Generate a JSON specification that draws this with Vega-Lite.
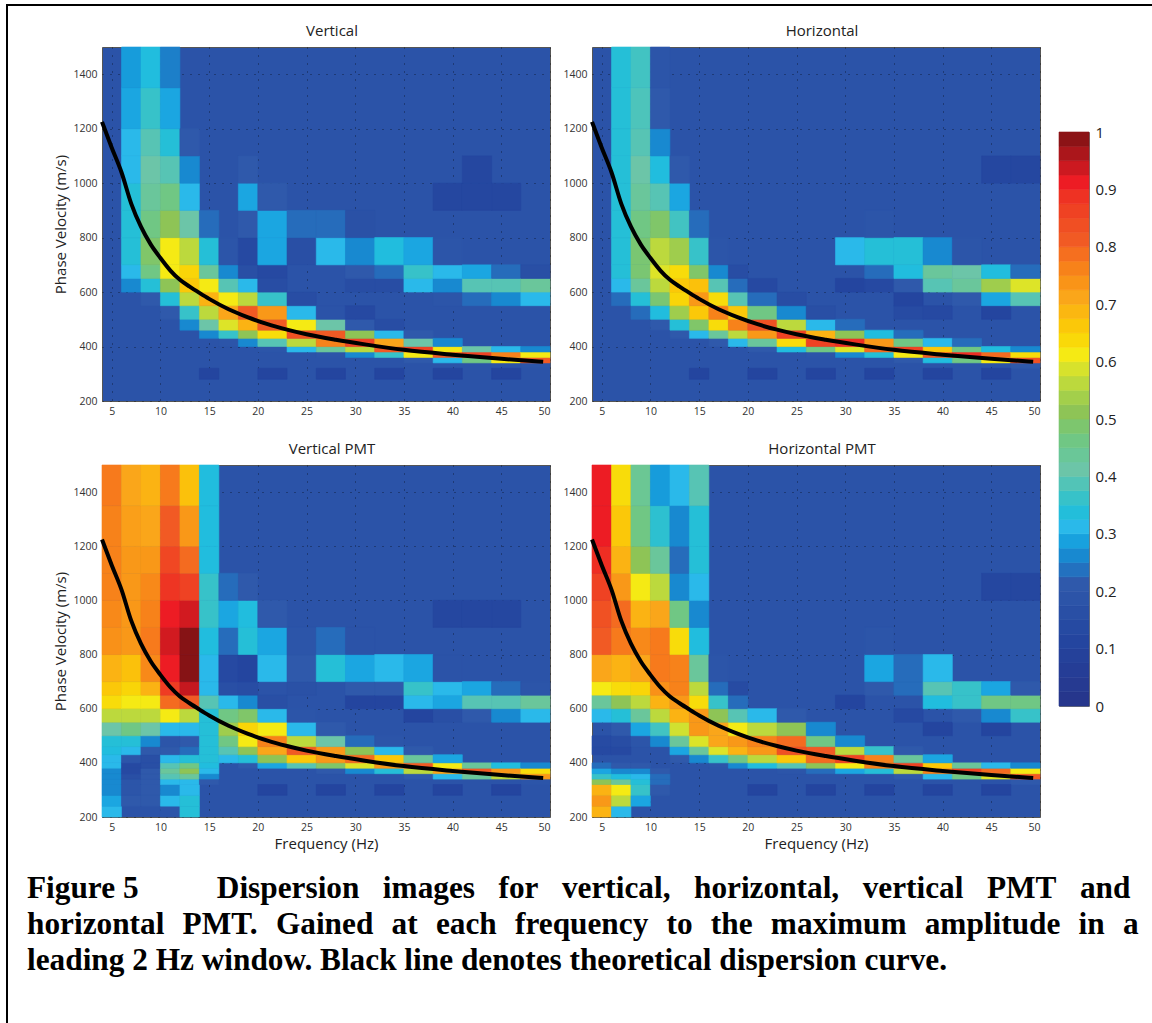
{"$schema":"https://vega.github.io/schema/vega-lite/v6.json","padding":{"left":6,"top":4,"right":0,"bottom":0},"background":"white","autosize":{"type":"pad"},
"datasets":{"fbin":[{"f":4,"f2":6},{"f":6,"f2":8},{"f":8,"f2":10},{"f":10,"f2":12},{"f":12,"f2":14},{"f":14,"f2":16},{"f":16,"f2":18},{"f":18,"f2":20},{"f":20,"f2":23},{"f":23,"f2":26},{"f":26,"f2":29},{"f":29,"f2":32},{"f":32,"f2":35},{"f":35,"f2":38},{"f":38,"f2":41},{"f":41,"f2":44},{"f":44,"f2":47},{"f":47,"f2":50}],
"vbin":[{"v":200,"v2":240},{"v":240,"v2":280},{"v":280,"v2":320},{"v":320,"v2":340},{"v":340,"v2":360},{"v":360,"v2":380},{"v":380,"v2":400},{"v":400,"v2":430},{"v":430,"v2":460},{"v":460,"v2":500},{"v":500,"v2":550},{"v":550,"v2":600},{"v":600,"v2":650},{"v":650,"v2":700},{"v":700,"v2":800},{"v":800,"v2":900},{"v":900,"v2":1000},{"v":1000,"v2":1100},{"v":1100,"v2":1200},{"v":1200,"v2":1350},{"v":1350,"v2":1500}],
"curve":[{"f":4,"c":1225},{"f":5,"c":1130},{"f":6,"c":1040},{"f":7,"c":925},{"f":8,"c":840},{"f":9,"c":775},{"f":10,"c":725},{"f":11,"c":680},{"f":12,"c":645},{"f":13,"c":620},{"f":14,"c":597},{"f":15,"c":575},{"f":17,"c":537},{"f":19,"c":507},{"f":21,"c":482},{"f":23,"c":462},{"f":25,"c":445},{"f":28,"c":425},{"f":31,"c":408},{"f":35,"c":388},{"f":40,"c":370},{"f":45,"c":355},{"f":49.3,"c":344}],"none":[],
"bar":[{"b":0,"t":0.025},{"b":0.025,"t":0.05},{"b":0.05,"t":0.075},{"b":0.075,"t":0.1},{"b":0.1,"t":0.125},{"b":0.125,"t":0.15},{"b":0.15,"t":0.175},{"b":0.175,"t":0.2},{"b":0.2,"t":0.225},{"b":0.225,"t":0.25},{"b":0.25,"t":0.275},{"b":0.275,"t":0.3},{"b":0.3,"t":0.325},{"b":0.325,"t":0.35},{"b":0.35,"t":0.375},{"b":0.375,"t":0.4},{"b":0.4,"t":0.425},{"b":0.425,"t":0.45},{"b":0.45,"t":0.475},{"b":0.475,"t":0.5},{"b":0.5,"t":0.525},{"b":0.525,"t":0.55},{"b":0.55,"t":0.575},{"b":0.575,"t":0.6},{"b":0.6,"t":0.625},{"b":0.625,"t":0.65},{"b":0.65,"t":0.675},{"b":0.675,"t":0.7},{"b":0.7,"t":0.725},{"b":0.725,"t":0.75},{"b":0.75,"t":0.775},{"b":0.775,"t":0.8},{"b":0.8,"t":0.825},{"b":0.825,"t":0.85},{"b":0.85,"t":0.875},{"b":0.875,"t":0.9},{"b":0.9,"t":0.925},{"b":0.925,"t":0.95},{"b":0.95,"t":0.975},{"b":0.975,"t":1}]},
"data":{"format":{"type":"csv","parse":{"f":"number","v":"number","a":"number"}},"values":"p,f,v,a\nV,6,600,.25\nV,6,650,.3\nV,6,700,.33\nV,6,800,.33\nV,6,900,.33\nV,6,1000,.3\nV,6,1100,.3\nV,6,1200,.28\nV,6,1350,.27\nV,8,550,.2\nV,8,600,.33\nV,8,650,.45\nV,8,700,.48\nV,8,800,.45\nV,8,900,.42\nV,8,1000,.4\nV,8,1100,.38\nV,8,1200,.35\nV,8,1350,.32\nV,10,500,.2\nV,10,550,.33\nV,10,600,.5\nV,10,650,.6\nV,10,700,.6\nV,10,800,.5\nV,10,900,.45\nV,10,1000,.38\nV,10,1100,.33\nV,10,1200,.28\nV,10,1350,.24\nV,12,460,.25\nV,12,500,.35\nV,12,550,.55\nV,12,600,.65\nV,12,650,.63\nV,12,700,.55\nV,12,800,.4\nV,12,900,.3\nV,12,1000,.25\nV,12,1100,.2\nV,14,430,.25\nV,14,460,.4\nV,14,500,.55\nV,14,550,.68\nV,14,600,.6\nV,14,650,.42\nV,14,700,.33\nV,14,800,.22\nV,16,400,.18\nV,16,430,.35\nV,16,460,.58\nV,16,500,.7\nV,16,550,.6\nV,16,600,.38\nV,16,650,.25\nV,16,700,.18\nV,18,400,.25\nV,18,430,.5\nV,18,460,.68\nV,18,500,.8\nV,18,550,.55\nV,18,600,.3\nV,18,650,.15\nV,18,700,.12\nV,18,800,.2\nV,18,900,.28\nV,18,1000,.2\nV,20,380,.18\nV,20,400,.38\nV,20,430,.62\nV,20,460,.8\nV,20,500,.72\nV,20,550,.35\nV,20,600,.14\nV,20,650,.12\nV,20,700,.28\nV,20,800,.28\nV,20,900,.2\nV,23,380,.3\nV,23,400,.55\nV,23,430,.82\nV,23,460,.6\nV,23,500,.3\nV,23,550,.14\nV,23,700,.15\nV,23,800,.22\nV,26,360,.18\nV,26,380,.42\nV,26,400,.75\nV,26,430,.8\nV,26,460,.4\nV,26,500,.17\nV,26,700,.3\nV,26,800,.22\nV,29,360,.25\nV,29,380,.55\nV,29,400,.85\nV,29,430,.5\nV,29,460,.2\nV,29,500,.12\nV,29,600,.14\nV,29,650,.2\nV,29,700,.25\nV,29,800,.16\nV,32,360,.35\nV,32,380,.8\nV,32,400,.7\nV,32,430,.3\nV,32,460,.14\nV,32,600,.14\nV,32,650,.22\nV,32,700,.32\nV,35,340,.2\nV,35,360,.6\nV,35,380,.85\nV,35,400,.4\nV,35,430,.2\nV,35,600,.3\nV,35,650,.35\nV,35,700,.28\nV,38,340,.3\nV,38,360,.8\nV,38,380,.6\nV,38,400,.25\nV,38,550,.18\nV,38,600,.25\nV,38,650,.3\nV,38,700,.18\nV,41,340,.45\nV,41,360,.85\nV,41,380,.4\nV,41,550,.22\nV,41,600,.38\nV,41,650,.28\nV,44,340,.6\nV,44,360,.75\nV,44,380,.3\nV,44,550,.25\nV,44,600,.38\nV,44,650,.22\nV,47,320,.18\nV,47,340,.8\nV,47,360,.6\nV,47,380,.25\nV,47,550,.3\nV,47,600,.42\nV,47,650,.15\nH,6,550,.22\nH,6,600,.3\nH,6,650,.33\nH,6,700,.33\nH,6,800,.33\nH,6,900,.33\nH,6,1000,.33\nH,6,1100,.33\nH,6,1200,.33\nH,6,1350,.33\nH,8,500,.22\nH,8,550,.33\nH,8,600,.42\nH,8,650,.47\nH,8,700,.47\nH,8,800,.45\nH,8,900,.42\nH,8,1000,.4\nH,8,1100,.38\nH,8,1200,.37\nH,8,1350,.36\nH,10,460,.2\nH,10,500,.32\nH,10,550,.47\nH,10,600,.55\nH,10,650,.58\nH,10,700,.55\nH,10,800,.48\nH,10,900,.38\nH,10,1000,.32\nH,10,1100,.25\nH,10,1200,.2\nH,10,1350,.18\nH,12,430,.2\nH,12,460,.33\nH,12,500,.52\nH,12,550,.63\nH,12,600,.65\nH,12,650,.62\nH,12,700,.52\nH,12,800,.36\nH,12,900,.28\nH,12,1000,.2\nH,14,430,.3\nH,14,460,.48\nH,14,500,.65\nH,14,550,.72\nH,14,600,.66\nH,14,650,.48\nH,14,700,.35\nH,14,800,.22\nH,16,400,.2\nH,16,430,.42\nH,16,460,.62\nH,16,500,.75\nH,16,550,.62\nH,16,600,.38\nH,16,650,.25\nH,16,700,.18\nH,18,400,.3\nH,18,430,.55\nH,18,460,.75\nH,18,500,.65\nH,18,550,.38\nH,18,600,.22\nH,18,650,.14\nH,20,380,.2\nH,20,400,.42\nH,20,430,.72\nH,20,460,.82\nH,20,500,.45\nH,20,550,.22\nH,20,600,.12\nH,23,380,.32\nH,23,400,.62\nH,23,430,.85\nH,23,460,.55\nH,23,500,.25\nH,23,550,.14\nH,26,360,.18\nH,26,380,.45\nH,26,400,.85\nH,26,430,.68\nH,26,460,.3\nH,26,500,.15\nH,29,360,.25\nH,29,380,.58\nH,29,400,.88\nH,29,430,.5\nH,29,460,.22\nH,29,600,.1\nH,29,700,.3\nH,32,360,.33\nH,32,380,.78\nH,32,400,.72\nH,32,430,.32\nH,32,600,.12\nH,32,650,.22\nH,32,700,.33\nH,32,800,.18\nH,35,340,.2\nH,35,360,.6\nH,35,380,.85\nH,35,400,.45\nH,35,430,.22\nH,35,500,.13\nH,35,550,.1\nH,35,600,.2\nH,35,650,.32\nH,35,700,.33\nH,38,340,.32\nH,38,360,.8\nH,38,380,.65\nH,38,400,.3\nH,38,500,.12\nH,38,600,.38\nH,38,650,.42\nH,38,700,.25\nH,41,340,.45\nH,41,360,.88\nH,41,380,.45\nH,41,400,.22\nH,41,550,.2\nH,41,600,.42\nH,41,650,.4\nH,41,700,.18\nH,44,340,.6\nH,44,360,.78\nH,44,380,.32\nH,44,500,.1\nH,44,550,.28\nH,44,600,.52\nH,44,650,.32\nH,47,320,.2\nH,47,340,.82\nH,47,360,.62\nH,47,380,.25\nH,47,550,.38\nH,47,600,.58\nH,47,650,.22\nP,4,200,.3\nP,4,240,.28\nP,4,280,.25\nP,4,320,.25\nP,4,340,.25\nP,4,360,.25\nP,4,380,.3\nP,4,400,.3\nP,4,430,.32\nP,4,460,.33\nP,4,500,.4\nP,4,550,.55\nP,4,600,.62\nP,4,650,.65\nP,4,700,.68\nP,4,800,.73\nP,4,900,.74\nP,4,1000,.75\nP,4,1100,.75\nP,4,1200,.75\nP,4,1350,.76\nP,6,240,.2\nP,6,280,.18\nP,6,320,.18\nP,6,340,.15\nP,6,360,.12\nP,6,380,.12\nP,6,400,.18\nP,6,430,.3\nP,6,460,.33\nP,6,500,.45\nP,6,550,.55\nP,6,600,.6\nP,6,650,.63\nP,6,700,.66\nP,6,800,.72\nP,6,900,.72\nP,6,1000,.72\nP,6,1100,.72\nP,6,1200,.71\nP,6,1350,.7\nP,8,240,.2\nP,8,280,.2\nP,8,320,.2\nP,8,340,.2\nP,8,360,.2\nP,8,380,.15\nP,8,400,.15\nP,8,430,.2\nP,8,460,.25\nP,8,500,.4\nP,8,550,.55\nP,8,600,.6\nP,8,650,.68\nP,8,700,.74\nP,8,800,.76\nP,8,900,.75\nP,8,1000,.74\nP,8,1100,.72\nP,8,1200,.7\nP,8,1350,.68\nP,10,200,.18\nP,10,240,.3\nP,10,280,.25\nP,10,320,.3\nP,10,340,.38\nP,10,360,.42\nP,10,380,.38\nP,10,400,.3\nP,10,430,.2\nP,10,460,.18\nP,10,500,.3\nP,10,550,.6\nP,10,600,.78\nP,10,650,.86\nP,10,700,.9\nP,10,800,.92\nP,10,900,.9\nP,10,1000,.87\nP,10,1100,.84\nP,10,1200,.8\nP,10,1350,.76\nP,12,200,.33\nP,12,240,.33\nP,12,280,.3\nP,12,320,.3\nP,12,340,.42\nP,12,360,.5\nP,12,380,.45\nP,12,400,.33\nP,12,430,.22\nP,12,460,.2\nP,12,500,.3\nP,12,550,.55\nP,12,600,.8\nP,12,650,.93\nP,12,700,.98\nP,12,800,.98\nP,12,900,.92\nP,12,1000,.85\nP,12,1100,.78\nP,12,1200,.72\nP,12,1350,.66\nP,14,320,.2\nP,14,340,.25\nP,14,360,.3\nP,14,380,.32\nP,14,400,.33\nP,14,430,.33\nP,14,460,.33\nP,14,500,.33\nP,14,550,.33\nP,14,600,.38\nP,14,650,.3\nP,14,700,.3\nP,14,800,.32\nP,14,900,.35\nP,14,1000,.35\nP,14,1100,.32\nP,14,1200,.32\nP,14,1350,.32\nP,16,400,.3\nP,16,430,.38\nP,16,460,.45\nP,16,500,.52\nP,16,550,.45\nP,16,600,.3\nP,16,650,.15\nP,16,700,.12\nP,16,800,.22\nP,16,900,.28\nP,16,1000,.22\nP,18,380,.2\nP,18,400,.33\nP,18,430,.5\nP,18,460,.6\nP,18,500,.63\nP,18,550,.48\nP,18,600,.25\nP,18,650,.14\nP,18,700,.1\nP,18,800,.33\nP,18,900,.32\nP,18,1000,.2\nP,20,380,.28\nP,20,400,.5\nP,20,430,.7\nP,20,460,.75\nP,20,500,.6\nP,20,550,.3\nP,20,600,.15\nP,20,700,.3\nP,20,800,.28\nP,20,900,.2\nP,23,380,.38\nP,23,400,.65\nP,23,430,.8\nP,23,460,.55\nP,23,500,.3\nP,23,550,.18\nP,23,650,.16\nP,23,700,.2\nP,23,800,.18\nP,26,360,.2\nP,26,380,.48\nP,26,400,.72\nP,26,430,.72\nP,26,460,.4\nP,26,500,.2\nP,26,700,.33\nP,26,800,.22\nP,29,360,.25\nP,29,380,.58\nP,29,400,.78\nP,29,430,.5\nP,29,460,.22\nP,29,600,.1\nP,29,650,.2\nP,29,700,.28\nP,29,800,.17\nP,32,360,.33\nP,32,380,.72\nP,32,400,.65\nP,32,430,.3\nP,32,460,.18\nP,32,600,.1\nP,32,650,.2\nP,32,700,.3\nP,35,340,.2\nP,35,360,.55\nP,35,380,.8\nP,35,400,.42\nP,35,430,.2\nP,35,550,.1\nP,35,600,.3\nP,35,650,.35\nP,35,700,.28\nP,38,340,.3\nP,38,360,.7\nP,38,380,.6\nP,38,400,.28\nP,38,550,.15\nP,38,600,.28\nP,38,650,.3\nP,38,700,.17\nP,41,340,.42\nP,41,360,.8\nP,41,380,.42\nP,41,550,.2\nP,41,600,.38\nP,41,650,.28\nP,44,340,.55\nP,44,360,.72\nP,44,380,.32\nP,44,550,.25\nP,44,600,.38\nP,44,650,.22\nP,47,320,.18\nP,47,340,.72\nP,47,360,.62\nP,47,380,.25\nP,47,550,.3\nP,47,600,.42\nP,47,650,.18\nQ,4,200,.68\nQ,4,240,.72\nQ,4,280,.68\nQ,4,320,.5\nQ,4,340,.35\nQ,4,360,.28\nQ,4,380,.22\nQ,4,430,.12\nQ,4,460,.13\nQ,4,550,.3\nQ,4,600,.42\nQ,4,650,.6\nQ,4,700,.7\nQ,4,800,.8\nQ,4,900,.82\nQ,4,1000,.85\nQ,4,1100,.88\nQ,4,1200,.9\nQ,4,1350,.9\nQ,6,200,.3\nQ,6,240,.55\nQ,6,280,.6\nQ,6,320,.42\nQ,6,340,.32\nQ,6,360,.25\nQ,6,380,.2\nQ,6,430,.12\nQ,6,460,.14\nQ,6,500,.2\nQ,6,550,.33\nQ,6,600,.5\nQ,6,650,.62\nQ,6,700,.68\nQ,6,800,.76\nQ,6,900,.78\nQ,6,1000,.72\nQ,6,1100,.68\nQ,6,1200,.65\nQ,6,1350,.62\nQ,8,240,.28\nQ,8,280,.35\nQ,8,320,.33\nQ,8,340,.3\nQ,8,360,.25\nQ,8,380,.2\nQ,8,460,.18\nQ,8,500,.28\nQ,8,550,.42\nQ,8,600,.55\nQ,8,650,.63\nQ,8,700,.7\nQ,8,800,.74\nQ,8,900,.68\nQ,8,1000,.6\nQ,8,1100,.5\nQ,8,1200,.45\nQ,8,1350,.43\nQ,10,280,.2\nQ,10,320,.22\nQ,10,340,.22\nQ,10,360,.2\nQ,10,460,.25\nQ,10,500,.36\nQ,10,550,.55\nQ,10,600,.68\nQ,10,650,.73\nQ,10,700,.76\nQ,10,800,.76\nQ,10,900,.7\nQ,10,1000,.55\nQ,10,1100,.42\nQ,10,1200,.34\nQ,10,1350,.27\nQ,12,400,.2\nQ,12,430,.28\nQ,12,460,.42\nQ,12,500,.57\nQ,12,550,.68\nQ,12,600,.72\nQ,12,650,.75\nQ,12,700,.75\nQ,12,800,.62\nQ,12,900,.45\nQ,12,1000,.25\nQ,12,1100,.22\nQ,12,1200,.25\nQ,12,1350,.3\nQ,14,400,.25\nQ,14,430,.42\nQ,14,460,.58\nQ,14,500,.72\nQ,14,550,.72\nQ,14,600,.62\nQ,14,650,.55\nQ,14,700,.42\nQ,14,800,.32\nQ,14,900,.25\nQ,14,1000,.3\nQ,14,1100,.33\nQ,14,1200,.33\nQ,14,1350,.38\nQ,16,380,.18\nQ,16,400,.35\nQ,16,430,.58\nQ,16,460,.7\nQ,16,500,.7\nQ,16,550,.5\nQ,16,600,.35\nQ,16,650,.22\nQ,16,700,.18\nQ,18,380,.25\nQ,18,400,.45\nQ,18,430,.68\nQ,18,460,.72\nQ,18,500,.6\nQ,18,550,.38\nQ,18,600,.22\nQ,18,650,.13\nQ,20,380,.32\nQ,20,400,.55\nQ,20,430,.72\nQ,20,460,.75\nQ,20,500,.55\nQ,20,550,.3\nQ,23,360,.18\nQ,23,380,.38\nQ,23,400,.65\nQ,23,430,.82\nQ,23,460,.78\nQ,23,500,.5\nQ,23,550,.2\nQ,26,360,.22\nQ,26,380,.5\nQ,26,400,.78\nQ,26,430,.8\nQ,26,460,.45\nQ,26,500,.25\nQ,29,360,.28\nQ,29,380,.6\nQ,29,400,.85\nQ,29,430,.55\nQ,29,460,.25\nQ,29,600,.1\nQ,32,360,.33\nQ,32,380,.75\nQ,32,400,.75\nQ,32,430,.35\nQ,32,650,.2\nQ,32,700,.28\nQ,32,800,.18\nQ,35,340,.2\nQ,35,360,.55\nQ,35,380,.85\nQ,35,400,.42\nQ,35,430,.2\nQ,35,550,.12\nQ,35,650,.22\nQ,35,700,.22\nQ,38,340,.3\nQ,38,360,.75\nQ,38,380,.65\nQ,38,400,.28\nQ,38,500,.1\nQ,38,600,.32\nQ,38,650,.38\nQ,38,700,.3\nQ,41,340,.45\nQ,41,360,.85\nQ,41,380,.42\nQ,41,550,.2\nQ,41,600,.35\nQ,41,650,.35\nQ,44,340,.58\nQ,44,360,.78\nQ,44,380,.3\nQ,44,500,.1\nQ,44,550,.25\nQ,44,600,.45\nQ,44,650,.28\nQ,47,320,.2\nQ,47,340,.8\nQ,47,360,.6\nQ,47,380,.25\nQ,47,550,.35\nQ,47,600,.45\nQ,47,650,.2\nV,14,280,.1\nV,20,280,.1\nV,26,280,.1\nV,32,280,.1\nV,38,280,.1\nV,44,280,.1\nH,14,280,.1\nH,20,280,.1\nH,26,280,.1\nH,32,280,.1\nH,38,280,.1\nH,44,280,.1\nP,20,280,.1\nP,26,280,.1\nP,32,280,.1\nP,38,280,.1\nP,44,280,.1\nQ,20,280,.1\nQ,26,280,.1\nQ,32,280,.1\nQ,38,280,.1\nQ,44,280,.1\nV,38,900,.11\nV,41,900,.11\nV,41,1000,.11\nV,44,900,.11\nP,38,900,.11\nP,41,900,.11\nP,44,900,.11\nH,44,1000,.11\nH,47,1000,.11\nQ,44,1000,.11\nQ,47,1000,.11"},
"transform":[{"lookup":"f","from":{"data":{"name":"fbin"},"key":"f","fields":["f2"]}},{"lookup":"v","from":{"data":{"name":"vbin"},"key":"v","fields":["v2"]}}],
"hconcat":[
{"data":{"name":"none"},"width":2,"height":1019,"view":{"fill":"black","stroke":null},"mark":{"type":"rule"},"encoding":{}},
{"vconcat":[
{"data":{"name":"none"},"width":1144,"height":2,"view":{"fill":"black","stroke":null},"mark":{"type":"rule"},"encoding":{}},
{"hconcat":[
{"data":{"name":"none"},"width":52,"height":10,"view":{"fill":null,"stroke":null},"mark":{"type":"rule"},"encoding":{}},
{"hconcat":[
{"concat":[
{"title":"Vertical","width":448,"height":354,"layer":[{"transform":[{"filter":"datum.p=='V'"}],"mark":{"type":"rect","strokeWidth":0.6},"encoding":{"x":{"field":"f","type":"quantitative","scale":{"domain":[4,50],"nice":false},"axis":{"values":[5,10,15,20,25,30,35,40,45,50],"title":null}},"x2":{"field":"f2"},"y":{"field":"v","type":"quantitative","scale":{"domain":[200,1500],"nice":false},"axis":{"values":[200,400,600,800,1000,1200,1400],"title":"Phase Velocity (m/s)","format":"d"}},"y2":{"field":"v2"},"color":{"field":"a","type":"quantitative","scale":{"domain":[0,0.1,0.2,0.3,0.4,0.5,0.6,0.7,0.8,0.9,1],"range":["#26368c","#24459f","#2f59ab","#2ab9ea","#6cc5a8","#8ec456","#f5ea14","#faa61a","#f15a24","#ed1c24","#6e1011"]},"legend":null},"stroke":{"field":"a","type":"quantitative","scale":{"domain":[0,0.1,0.2,0.3,0.4,0.5,0.6,0.7,0.8,0.9,1],"range":["#26368c","#24459f","#2f59ab","#2ab9ea","#6cc5a8","#8ec456","#f5ea14","#faa61a","#f15a24","#ed1c24","#6e1011"]},"legend":null}}},{"data":{"name":"curve"},"mark":{"type":"line","color":"black","strokeWidth":4,"interpolate":"monotone"},"encoding":{"x":{"field":"f","type":"quantitative"},"y":{"field":"c","type":"quantitative"}}}]},
{"title":"Horizontal","width":448,"height":354,"layer":[{"transform":[{"filter":"datum.p=='H'"}],"mark":{"type":"rect","strokeWidth":0.6},"encoding":{"x":{"field":"f","type":"quantitative","scale":{"domain":[4,50],"nice":false},"axis":{"values":[5,10,15,20,25,30,35,40,45,50],"title":null}},"x2":{"field":"f2"},"y":{"field":"v","type":"quantitative","scale":{"domain":[200,1500],"nice":false},"axis":{"values":[200,400,600,800,1000,1200,1400],"title":null,"format":"d"}},"y2":{"field":"v2"},"color":{"field":"a","type":"quantitative","scale":{"domain":[0,0.1,0.2,0.3,0.4,0.5,0.6,0.7,0.8,0.9,1],"range":["#26368c","#24459f","#2f59ab","#2ab9ea","#6cc5a8","#8ec456","#f5ea14","#faa61a","#f15a24","#ed1c24","#6e1011"]},"legend":null},"stroke":{"field":"a","type":"quantitative","scale":{"domain":[0,0.1,0.2,0.3,0.4,0.5,0.6,0.7,0.8,0.9,1],"range":["#26368c","#24459f","#2f59ab","#2ab9ea","#6cc5a8","#8ec456","#f5ea14","#faa61a","#f15a24","#ed1c24","#6e1011"]},"legend":null}}},{"data":{"name":"curve"},"mark":{"type":"line","color":"black","strokeWidth":4,"interpolate":"monotone"},"encoding":{"x":{"field":"f","type":"quantitative"},"y":{"field":"c","type":"quantitative"}}}]},
{"title":"Vertical PMT","width":448,"height":352,"layer":[{"transform":[{"filter":"datum.p=='P'"}],"mark":{"type":"rect","strokeWidth":0.6},"encoding":{"x":{"field":"f","type":"quantitative","scale":{"domain":[4,50],"nice":false},"axis":{"values":[5,10,15,20,25,30,35,40,45,50],"title":"Frequency (Hz)"}},"x2":{"field":"f2"},"y":{"field":"v","type":"quantitative","scale":{"domain":[200,1500],"nice":false},"axis":{"values":[200,400,600,800,1000,1200,1400],"title":"Phase Velocity (m/s)","format":"d"}},"y2":{"field":"v2"},"color":{"field":"a","type":"quantitative","scale":{"domain":[0,0.1,0.2,0.3,0.4,0.5,0.6,0.7,0.8,0.9,1],"range":["#26368c","#24459f","#2f59ab","#2ab9ea","#6cc5a8","#8ec456","#f5ea14","#faa61a","#f15a24","#ed1c24","#6e1011"]},"legend":null},"stroke":{"field":"a","type":"quantitative","scale":{"domain":[0,0.1,0.2,0.3,0.4,0.5,0.6,0.7,0.8,0.9,1],"range":["#26368c","#24459f","#2f59ab","#2ab9ea","#6cc5a8","#8ec456","#f5ea14","#faa61a","#f15a24","#ed1c24","#6e1011"]},"legend":null}}},{"data":{"name":"curve"},"mark":{"type":"line","color":"black","strokeWidth":4,"interpolate":"monotone"},"encoding":{"x":{"field":"f","type":"quantitative"},"y":{"field":"c","type":"quantitative"}}}]},
{"title":"Horizontal PMT","width":448,"height":352,"layer":[{"transform":[{"filter":"datum.p=='Q'"}],"mark":{"type":"rect","strokeWidth":0.6},"encoding":{"x":{"field":"f","type":"quantitative","scale":{"domain":[4,50],"nice":false},"axis":{"values":[5,10,15,20,25,30,35,40,45,50],"title":"Frequency (Hz)"}},"x2":{"field":"f2"},"y":{"field":"v","type":"quantitative","scale":{"domain":[200,1500],"nice":false},"axis":{"values":[200,400,600,800,1000,1200,1400],"title":null,"format":"d"}},"y2":{"field":"v2"},"color":{"field":"a","type":"quantitative","scale":{"domain":[0,0.1,0.2,0.3,0.4,0.5,0.6,0.7,0.8,0.9,1],"range":["#26368c","#24459f","#2f59ab","#2ab9ea","#6cc5a8","#8ec456","#f5ea14","#faa61a","#f15a24","#ed1c24","#6e1011"]},"legend":null},"stroke":{"field":"a","type":"quantitative","scale":{"domain":[0,0.1,0.2,0.3,0.4,0.5,0.6,0.7,0.8,0.9,1],"range":["#26368c","#24459f","#2f59ab","#2ab9ea","#6cc5a8","#8ec456","#f5ea14","#faa61a","#f15a24","#ed1c24","#6e1011"]},"legend":null}}},{"data":{"name":"curve"},"mark":{"type":"line","color":"black","strokeWidth":4,"interpolate":"monotone"},"encoding":{"x":{"field":"f","type":"quantitative"},"y":{"field":"c","type":"quantitative"}}}]},
{"data":{"name":"none"},"width":10,"height":1,"view":{"fill":null,"stroke":null},"mark":{"type":"rule"},"encoding":{},"title":{"text":["Figure 5\u2003\u2003\u2002Dispersion\u2002\u2005images\u2002\u2005for\u2002\u2005vertical,\u2002\u2005horizontal,\u2002\u2005vertical\u2002\u2005PMT\u2002\u2005and","horizontal\u2002\u200aPMT.\u2002\u200aGained\u2002\u200aat\u2002\u200aeach\u2002\u200afrequency\u2002\u200ato\u2002\u200athe\u2002\u200amaximum\u2002\u200aamplitude\u2002\u200ain\u2002\u200aa","leading 2 Hz window. Black line denotes theoretical dispersion curve."],"orient":"bottom","anchor":"start","frame":"bounds","font":"Liberation Serif","fontSize":31.3,"fontWeight":"bold","color":"black","lineHeight":36,"dx":-75,"dy":-9,"offset":0,"align":"left"}}
],"columns":2,"spacing":{"row":64,"column":42},"bounds":"flush"},
{"vconcat":[
{"data":{"name":"none"},"width":10,"height":85,"view":{"fill":null,"stroke":null},"mark":{"type":"rule"},"encoding":{}},
{"data":{"name":"bar"},"width":30,"height":574,"view":{"fill":null,"stroke":"#777"},"mark":{"type":"rect","strokeWidth":0.6},"encoding":{"y":{"field":"b","type":"quantitative","scale":{"domain":[0,1],"nice":false},"axis":{"orient":"right","values":[0,0.1,0.2,0.3,0.4,0.5,0.6,0.7,0.8,0.9,1],"format":"~g","title":null,"grid":false,"labelFontSize":15,"labelColor":"#222","labelPadding":6}},"y2":{"field":"t"},"color":{"field":"b","type":"quantitative","scale":{"domain":[0,0.1,0.2,0.3,0.4,0.5,0.6,0.7,0.8,0.9,1],"range":["#26368c","#24459f","#2f59ab","#2ab9ea","#6cc5a8","#8ec456","#f5ea14","#faa61a","#f15a24","#ed1c24","#6e1011"]},"legend":null},"stroke":{"field":"b","type":"quantitative","scale":{"domain":[0,0.1,0.2,0.3,0.4,0.5,0.6,0.7,0.8,0.9,1],"range":["#26368c","#24459f","#2f59ab","#2ab9ea","#6cc5a8","#8ec456","#f5ea14","#faa61a","#f15a24","#ed1c24","#6e1011"]},"legend":null}}}
],"spacing":0,"bounds":"flush"}
],"spacing":957,"bounds":"flush"}
],"spacing":42,"bounds":"flush"}],"spacing":41,"bounds":"flush"}],
"spacing":0,"bounds":"flush",
"config":{"view":{"fill":"#2b53a8","stroke":"#555"},
"axis":{"labelFont":"Open Sans","labelColor":"#333","labelFontSize":10.5,"titleFont":"Open Sans","titleFontWeight":"normal","titleFontSize":15,"titleColor":"#222","tickSize":0,"domain":false,"grid":true,"gridColor":"black","gridDash":[1,7],"gridOpacity":0.6,"labelPadding":5,"zindex":1},
"title":{"font":"Open Sans","fontWeight":"normal","fontSize":15,"color":"#222","offset":8,"dx":6}}}
